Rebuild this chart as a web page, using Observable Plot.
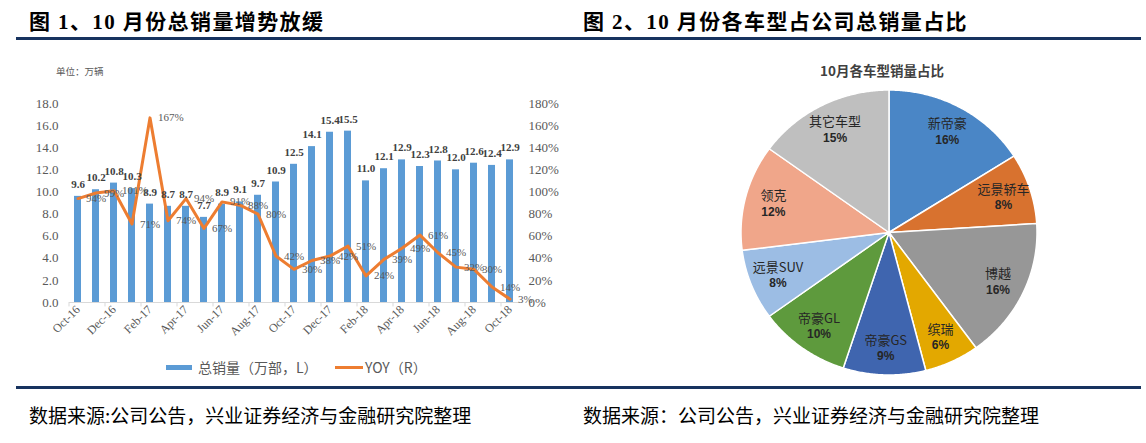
<!DOCTYPE html>
<html><head><meta charset="utf-8">
<script src="https://cdn.jsdelivr.net/npm/d3@7"></script>
<script src="https://cdn.jsdelivr.net/npm/@observablehq/plot@0.6"></script>
<style>
body{margin:0;background:#fff;}
#root{position:relative;width:1146px;height:443px;overflow:hidden;background:#fff;font-family:"Noto Sans CJK SC",sans-serif;}
.abs{position:absolute;white-space:nowrap;}
.title{font-family:"Liberation Serif","Noto Sans CJK SC",serif;font-weight:bold;font-size:21px;letter-spacing:1.4px;line-height:24px;color:#000;top:10px;}
.rule{position:absolute;left:16px;width:1125px;background:#17335f;}
.cap{font-size:19px;line-height:22px;top:404px;color:#000;}
.leg{font-size:14px;line-height:18px;color:#595959;top:358px;}
</style></head>
<body><div id="root">
<div class="abs title" style="left:29px;">图 1、10 月份总销量增势放缓</div>
<div class="abs title" style="left:583px;">图 2、10 月份各车型占公司总销量占比</div>
<div class="rule" style="top:37px;height:3px;"></div>
<div class="rule" style="top:386px;height:3px;"></div>
<div class="abs cap" style="left:29px;">数据来源:公司公告，兴业证券经济与金融研究院整理</div>
<div class="abs cap" style="left:583px;">数据来源：公司公告，兴业证券经济与金融研究院整理</div>
<div class="abs" style="left:56px;top:65px;font-size:9.5px;line-height:12px;color:#595959;">单位：万辆</div>
<div class="abs" style="left:166px;top:365px;width:26px;height:5px;background:#5B9BD5;"></div>
<div class="abs leg" style="left:198px;">总销量（万部，L）</div>
<div class="abs" style="left:335px;top:366px;width:28px;height:3px;background:#ED7D31;"></div>
<div class="abs leg" style="left:365px;">YOY（R）</div>
<div class="abs" style="left:782px;top:61px;width:200px;text-align:center;font-size:13.5px;line-height:18px;font-weight:bold;color:#404040;">10月各车型销量占比</div>
<div id="left" class="abs" style="left:0;top:40px;"></div>
<div id="pie" class="abs" style="left:700px;top:80px;"></div>
</div>
<script>
// ---- Figure 1 data ----
const months = ["Oct-16","Nov-16","Dec-16","Jan-17","Feb-17","Mar-17","Apr-17","May-17","Jun-17","Jul-17","Aug-17","Sep-17","Oct-17","Nov-17","Dec-17","Jan-18","Feb-18","Mar-18","Apr-18","May-18","Jun-18","Jul-18","Aug-18","Sep-18","Oct-18"];
const sales = [9.6,10.2,10.8,10.3,8.9,8.7,8.7,7.7,8.9,9.1,9.7,10.9,12.5,14.1,15.4,15.5,11.0,12.1,12.9,12.3,12.8,12.0,12.6,12.4,12.9];
const yoy = [94,99,101,71,167,74,94,67,91,88,80,42,30,38,42,51,24,39,49,61,45,32,30,14,3];
const xTickLabels = ["Oct-16","Dec-16","Feb-17","Apr-17","Jun-17","Aug-17","Oct-17","Dec-17","Feb-18","Apr-18","Jun-18","Aug-18","Oct-18"];
const leftTicks = [0,2,4,6,8,10,12,14,16,18];
const leftTickLabels = ["0.0","2.0","4.0","6.0","8.0","10.0","12.0","14.0","16.0","18.0"];
const rightTickLabels = ["0%","20%","40%","60%","80%","100%","120%","140%","160%","180%"];
const rightMax = 180, leftMax = 18;

// ---- Figure 2 data ----
const pieNames = ["新帝豪","远景轿车","博越","缤瑞","帝豪GS","帝豪GL","远景SUV","领克","其它车型"];
const pieShares = [16,8,16,6,9,10,8,12,15];
const pieColors = ["#4A86C6","#D8722F","#979797","#E3A800","#3F65AF","#5E9A3D","#9CBDE4","#F0A68A","#BFBFBF"];

const k = leftMax / rightMax;
const rows = months.map((m, i) => ({month: m, sales: sales[i], yoy: yoy[i]}));

const left = Plot.plot({
  width: 570, height: 310,
  marginTop: 63, marginBottom: 48, marginLeft: 69, marginRight: 51,
  style: {fontFamily: "Liberation Serif, serif", color: "#595959", background: "transparent", overflow: "visible"},
  x: {type: "band", domain: months, paddingInner: 0.6, paddingOuter: 0.3, axis: null},
  y: {domain: [0, leftMax], axis: null},
  marks: [
    Plot.barY(rows, {x: "month", y: "sales", fill: "#5B9BD5"}),
    Plot.ruleY([0], {stroke: "#d9d9d9"}),
    Plot.ruleX(xTickLabels, {x: d => d, dx: -9, y1: 0, y2: -0.4, stroke: "#d9d9d9"}),
    Plot.line(rows, {x: "month", y: d => d.yoy * k, stroke: "#ED7D31", strokeWidth: 3}),
    Plot.text(rows, {x: "month", y: "sales", text: d => d.sales.toFixed(1), dy: -12, fontWeight: "bold", fontSize: 11, fill: "#404040"}),
    Plot.text(rows, {x: "month", y: d => d.yoy * k, text: d => d.yoy + "%", dx: 8, textAnchor: "start", fontSize: 11, fill: "#595959"}),
    Plot.axisY(leftTicks, {anchor: "left", tickSize: 0, tickPadding: 11, tickFormat: (d, i) => leftTickLabels[i], fontSize: 13, label: null}),
    Plot.axisY(leftTicks, {anchor: "right", tickSize: 0, tickPadding: 9, tickFormat: (d, i) => rightTickLabels[i], fontSize: 13, label: null}),
    Plot.axisX(xTickLabels, {anchor: "bottom", tickSize: 0, tickPadding: 5, tickRotate: -45, fontSize: 12, label: null})
  ]
});
document.getElementById("left").appendChild(left);

// pie slices as wedge areas
const total = d3.sum(pieShares);
const arcs = d3.pie().sort(null).value(d => d)(pieShares);
const wedgePts = [];
arcs.forEach((a, i) => {
  const n = Math.max(2, Math.ceil((a.endAngle - a.startAngle) * 180 / Math.PI * 2));
  for (let j = 0; j <= n; j++) {
    const t = a.startAngle + (a.endAngle - a.startAngle) * j / n;
    wedgePts.push({name: pieNames[i], x1: 0, y1: 0, x2: Math.sin(t), y2: Math.cos(t)});
  }
});
const labelR = 0.81;
const pieLabels = arcs.map((a, i) => {
  const t = (a.startAngle + a.endAngle) / 2;
  return {name: pieNames[i], pct: Math.round(pieShares[i] / total * 100) + "%", x: labelR * Math.sin(t), y: labelR * Math.cos(t)};
});

const pie = Plot.plot({
  width: 380, height: 310,
  marginLeft: 41, marginRight: 43, marginTop: 10, marginBottom: 15,
  style: {background: "transparent", overflow: "visible"},
  x: {domain: [-1, 1], axis: null},
  y: {domain: [-1, 1], axis: null},
  color: {domain: pieNames, range: pieColors},
  marks: [
    Plot.area(wedgePts, {x1: "x1", y1: "y1", x2: "x2", y2: "y2", fill: "name", z: "name", stroke: "white", strokeWidth: 1.5, strokeLinejoin: "round"}),
    Plot.text(pieLabels, {x: "x", y: "y", text: "name", dy: -8, fontSize: 13, fill: "#262626", fontFamily: "Noto Sans CJK SC"}),
    Plot.text(pieLabels, {x: "x", y: "y", text: "pct", dy: 8, fontSize: 12, fontWeight: "bold", fill: "#262626", fontFamily: "Liberation Sans, sans-serif"})
  ]
});
document.getElementById("pie").appendChild(pie);
</script>
</body></html>
